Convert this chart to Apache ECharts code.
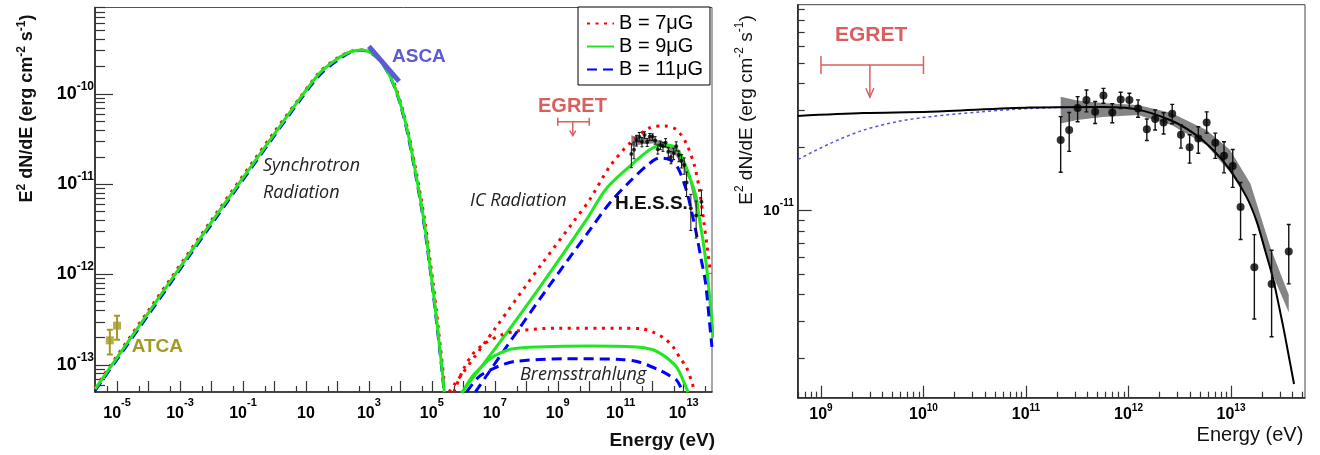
<!DOCTYPE html>
<html><head><meta charset="utf-8">
<script src="https://cdn.jsdelivr.net/npm/echarts@6/dist/echarts.min.js"></script>
<style>html,body{margin:0;padding:0;background:#fff}#c{width:1320px;height:455px}</style>
</head><body><div id="c"></div>
<script>
// ================= DATA (E in eV, flux E^2 dN/dE in erg cm^-2 s^-1) =================
// Synchrotron component (left panel)
const synchE   = [2.0e-6, 1e-4, 1e-2, 1, 6.5, 27.5, 93, 250, 630, 1.74e3, 3.6e3, 6.8e3, 1.12e4, 1.78e4, 2.8e4, 4.5e4, 6.3e4, 8.7e4, 1.12e5, 1.41e5, 1.9e5, 2.5e5];
const synchF7  = [5.6e-14, 4.0e-13, 4.0e-12, 3.8e-11, 9.1e-11, 1.74e-10, 2.45e-10, 2.92e-10, 3.05e-10, 2.6e-10, 1.9e-10, 1.23e-10, 7.1e-11, 3.8e-11, 1.74e-11, 7.1e-12, 3.5e-12, 1.48e-12, 7.6e-13, 3.8e-13, 1.51e-13, 6.3e-14];
const synchF9  = [5.4e-14, 3.8e-13, 3.8e-12, 3.6e-11, 8.9e-11, 1.7e-10, 2.4e-10, 2.9e-10, 3.05e-10, 2.57e-10, 1.86e-10, 1.17e-10, 6.8e-11, 3.55e-11, 1.58e-11, 6.3e-12, 3.0e-12, 1.26e-12, 6.3e-13, 3.2e-13, 1.26e-13, 5.0e-14];
const synchF11 = [5.2e-14, 3.6e-13, 3.6e-12, 3.45e-11, 8.5e-11, 1.62e-10, 2.3e-10, 2.85e-10, 3.03e-10, 2.55e-10, 1.84e-10, 1.15e-10, 6.6e-11, 3.4e-11, 1.5e-11, 6.0e-12, 2.8e-12, 1.2e-12, 6.0e-13, 3.0e-13, 1.2e-13, 4.8e-14];
// Inverse Compton component
const icE7  = [3.5e5, 1e7, 3.16e8, 3.1e9, 1.05e10, 4.5e10, 1.95e11, 8.3e11, 2.5e12, 5.9e12, 1.2e13, 2.24e13, 3.3e13, 4.3e13, 5.6e13, 7.2e13];
const icF7  = [5.0e-14, 2.5e-13, 1.32e-12, 3.8e-12, 6.8e-12, 1.57e-11, 2.84e-11, 4.2e-11, 4.4e-11, 4.0e-11, 2.84e-11, 1.57e-11, 7.9e-12, 4.0e-12, 2.0e-12, 1.02e-12];
const icE9  = [8.7e5, 1.12e7, 2.37e8, 8.1e9, 3.47e10, 1.95e11, 8.3e11, 1.95e12, 4.6e12, 8.5e12, 1.55e13, 2.5e13, 3.2e13, 4.1e13, 5.6e13, 7.6e13, 8.9e13];
const icF9  = [4.9e-14, 1.58e-13, 6.8e-13, 4.03e-12, 8.9e-12, 1.58e-11, 2.4e-11, 2.72e-11, 2.63e-11, 2.04e-11, 1.21e-11, 7.2e-12, 4.0e-12, 2.4e-12, 1.05e-12, 3.4e-13, 2.0e-13];
const icE11 = [2.4e6, 2.34e7, 4.37e8, 1.05e10, 4.5e10, 1.95e11, 8.3e11, 1.74e12, 3.6e12, 6.6e12, 1.2e13, 1.74e13, 2.5e13, 3.55e13, 4.9e13, 6.3e13, 7.9e13];
const icF11 = [5.0e-14, 1.58e-13, 6.8e-13, 3.12e-12, 6.2e-12, 1.07e-11, 1.7e-11, 1.95e-11, 1.86e-11, 1.51e-11, 8.7e-12, 5.2e-12, 2.9e-12, 1.51e-12, 8.3e-13, 3.55e-13, 1.58e-13];
// Bremsstrahlung component
const brE7  = [5.0e5, 1e6, 2e6, 5e6, 1.58e7, 6.3e7, 1e9, 1e11, 5e11, 1.07e12, 2.5e12, 4.6e12, 7.9e12, 1.2e13, 1.78e13, 2.24e13];
const brF7  = [5.0e-14, 8.9e-14, 1.32e-13, 1.74e-13, 2.14e-13, 2.4e-13, 2.55e-13, 2.55e-13, 2.5e-13, 2.3e-13, 1.95e-13, 1.58e-13, 1.17e-13, 9.5e-14, 6.6e-14, 5.0e-14];
const brE9  = [9.5e5, 1.78e6, 3.3e6, 7.1e6, 1.45e7, 3.8e7, 2.1e8, 1e10, 3.16e11, 1e12, 1.74e12, 3.16e12, 5.9e12, 8.9e12, 1.38e13];
const brF9  = [5.0e-14, 7.2e-14, 9.1e-14, 1.17e-13, 1.35e-13, 1.51e-13, 1.58e-13, 1.62e-13, 1.58e-13, 1.48e-13, 1.35e-13, 1.17e-13, 9.5e-14, 7.2e-14, 5.0e-14];
const brE11 = [1.26e6, 3.16e6, 8.9e6, 2e7, 4.9e7, 1.48e9, 1e11, 4e11, 1.74e12, 3.16e12, 5.9e12, 7.9e12, 9.3e12];
const brF11 = [5.0e-14, 7.4e-14, 9.1e-14, 1.02e-13, 1.1e-13, 1.17e-13, 1.15e-13, 1.07e-13, 8.7e-14, 7.8e-14, 6.8e-14, 5.75e-14, 5.0e-14];
// Measurements
const ascaE = [1.0e3, 9.1e3];
const ascaF = [3.34e-10, 1.37e-10];
const atcaE  = [5.9e-6, 1.0e-5];
const atcaF  = [1.87e-13, 2.72e-13];
const atcaLo = [1.3e-13, 1.9e-13];
const atcaHi = [2.45e-13, 3.5e-13];
const egretE = [1e9, 1e10];
const egretArrowE = 3e9;
const egretF = 4.9e-11;
const egretTip = 3.45e-11;
const hessE  = [2.18e11, 2.64e11, 3.19e11, 3.89e11, 4.73e11, 5.70e11, 6.95e11, 8.39e11, 1.02e12, 1.24e12, 1.51e12, 1.82e12, 2.20e12, 2.67e12, 3.25e12, 3.95e12, 4.80e12, 5.79e12, 7.03e12, 8.55e12, 1.04e13, 1.24e13, 1.69e13, 2.49e13, 3.66e13];
const hessF  = [2.16e-11, 2.41e-11, 3.07e-11, 3.35e-11, 2.94e-11, 3.51e-11, 2.92e-11, 3.36e-11, 3.35e-11, 3.05e-11, 2.43e-11, 2.72e-11, 2.62e-11, 2.88e-11, 2.29e-11, 2.00e-11, 2.20e-11, 2.62e-11, 2.10e-11, 1.82e-11, 1.63e-11, 1.04e-11, 5.4e-12, 4.5e-12, 6.4e-12];
const hessHi = [2.79e-11, 2.92e-11, 3.47e-11, 3.73e-11, 3.29e-11, 3.80e-11, 3.21e-11, 3.64e-11, 3.60e-11, 3.35e-11, 2.72e-11, 3.00e-11, 2.91e-11, 3.19e-11, 2.55e-11, 2.29e-11, 2.50e-11, 2.94e-11, 2.33e-11, 2.12e-11, 1.95e-11, 1.36e-11, 7.7e-12, 6.5e-12, 8.6e-12];
const hessLo = [1.52e-11, 1.91e-11, 2.64e-11, 2.94e-11, 2.59e-11, 3.23e-11, 2.61e-11, 3.05e-11, 3.05e-11, 2.77e-11, 2.15e-11, 2.41e-11, 2.31e-11, 2.58e-11, 1.98e-11, 1.68e-11, 1.87e-11, 2.33e-11, 1.77e-11, 1.51e-11, 1.29e-11, 7.3e-12, 3.07e-12, 2.53e-12, 4.5e-12];
const bandE  = [2.18e11, 3.16e11, 5.6e11, 1.23e12, 2.63e12, 5.75e12, 9.8e12, 1.55e13, 2.45e13, 3.66e13];
const bandHi = [3.47e-11, 3.33e-11, 3.24e-11, 3.17e-11, 2.90e-11, 2.41e-11, 1.94e-11, 1.34e-11, 6.6e-12, 4.0e-12];
const bandLo = [2.59e-11, 2.69e-11, 2.78e-11, 2.84e-11, 2.55e-11, 2.05e-11, 1.52e-11, 1.08e-11, 5.2e-12, 3.3e-12];
const fitE = [5.9e8, 2.6e9, 1.16e10, 1.09e11, 5.6e11, 1.2e12, 2.54e12, 4.3e12, 6.7e12, 9.8e12, 1.42e13, 1.78e13, 2.15e13, 2.59e13, 3.24e13, 3.77e13, 4.12e13];
const fitF = [2.81e-11, 2.9e-11, 2.94e-11, 3.08e-11, 3.10e-11, 3.02e-11, 2.69e-11, 2.33e-11, 1.94e-11, 1.56e-11, 1.16e-11, 8.9e-12, 6.5e-12, 4.7e-12, 2.8e-12, 1.9e-12, 1.51e-12];
const altE = [6.0e8, 1.22e9, 2.6e9, 5.5e9, 1.16e10, 3.56e10, 1.09e11, 2.5e11];
const altF = [1.75e-11, 2.08e-11, 2.41e-11, 2.64e-11, 2.79e-11, 2.94e-11, 3.05e-11, 3.09e-11];
// Tick labels (exponents of 10)
const leftXLabelExp  = [-5, -3, -1, 1, 3, 5, 7, 9, 11, 13];
const leftXTickExp   = [-5,-4,-3,-2,-1,0,1,2,3,4,5,6,7,8,9,10,11,12,13];
const leftYLabelExp  = [-13, -12, -11, -10];
const rightXLabelExp = [9, 10, 11, 12, 13];
const rightYLabelExp = [-11];
const seriesNames = ['B = 7\u03bcG', 'B = 9\u03bcG', 'B = 11\u03bcG'];

// ================= HELPERS =================
const L = Math.log10;
const pts = (xs, ys) => xs.map((x, i) => [L(x), L(ys[i])]);
const minorLog = (lo, hi, ks) => { const o = []; for (let n = Math.floor(lo) - 1; n <= Math.ceil(hi); n++) ks.forEach(k => { const v = n + L(k); if (v > lo && v < hi) o.push(v); }); return o; };
const K29 = [2,3,4,5,6,7,8,9];
const FONT = 'Liberation Sans';
const supFmt = v => { const n = Math.round(v); return n === 1 ? '{b|10}' : '{b|10}{s|' + n + '}'; };
const richMk = (bs, ss, lh, weight) => ({
  b: { fontFamily: FONT, fontWeight: weight || 'bold', fontSize: bs, lineHeight: lh, color: '#000' },
  s: { fontFamily: FONT, fontWeight: weight || 'bold', fontSize: ss, lineHeight: ss, verticalAlign: 'top', color: '#000' }
});

const LX = [-5.7, 13.9], LY = [-13.3, -9.045];
const RX = [8.773, 13.722], RY = [-11.886, -10.024];

function axis(dim, grid, range, ticks, tickLen, labels, labelOpt, lineShow) {
  return {
    type: 'value', gridIndex: grid, min: range[0], max: range[1],
    position: dim === 'x' ? 'bottom' : 'left',
    axisLine: { show: lineShow, onZero: false, lineStyle: { color: '#222', width: 1.6 } },
    axisTick: { show: true, inside: true, length: tickLen, customValues: ticks, lineStyle: { color: '#333', width: 1.2 } },
    axisLabel: labels ? Object.assign({ show: true, customValues: labels, formatter: supFmt }, labelOpt)
                      : { show: false, customValues: ticks },
    splitLine: { show: false }, minorTick: { show: false }, silent: true
  };
}

const C7 = '#ff0000', C9 = '#1ee81e', C11 = '#0000ff';
const st7 = { color: C7, width: 3, type: [3, 5.5] };
const st9 = { color: C9, width: 3, type: 'solid' };
const st11 = { color: C11, width: 3, type: [10, 6] };

function curve(name, xs, ys, ls, xi, yi) {
  return { type: 'line', name, xAxisIndex: xi, yAxisIndex: yi, data: pts(xs, ys), symbol: 'none', showSymbol: false,
    smooth: 0.3, lineStyle: ls, itemStyle: { color: ls.color }, silent: true, clip: true };
}

function errBars(xi, yi, E, lo, hi, cap, lw, color, z) {
  return { type: 'custom', xAxisIndex: xi, yAxisIndex: yi, clip: true, silent: true, z: z || 3,
    data: E.map((e, i) => [L(e), L(lo[i]), L(hi[i])]), encode: { x: 0, y: [1, 2] },
    renderItem: (p, api) => {
      const a = api.coord([api.value(0), api.value(1)]), b = api.coord([api.value(0), api.value(2)]);
      const s = { stroke: color, lineWidth: lw };
      return { type: 'group', children: [
        { type: 'line', shape: { x1: a[0], y1: a[1], x2: b[0], y2: b[1] }, style: s },
        { type: 'line', shape: { x1: a[0] - cap, y1: a[1], x2: a[0] + cap, y2: a[1] }, style: s },
        { type: 'line', shape: { x1: b[0] - cap, y1: b[1], x2: b[0] + cap, y2: b[1] }, style: s }
      ]};
    } };
}

function egret(xi, yi, cap, headW, headH, lw) {
  const col = '#d95f5f';
  return { type: 'custom', xAxisIndex: xi, yAxisIndex: yi, silent: true, z: 4,
    data: [[L(egretE[0]), L(egretE[1]), L(egretArrowE), L(egretF), L(egretTip)]], encode: { x: [0, 1, 2], y: [3, 4] },
    renderItem: (p, api) => {
      const a = api.coord([api.value(0), api.value(3)]), b = api.coord([api.value(1), api.value(3)]);
      const c = api.coord([api.value(2), api.value(3)]), t = api.coord([api.value(2), api.value(4)]);
      const s = { stroke: col, lineWidth: lw, fill: null };
      return { type: 'group', children: [
        { type: 'line', shape: { x1: a[0], y1: a[1], x2: b[0], y2: b[1] }, style: s },
        { type: 'line', shape: { x1: a[0], y1: a[1] - cap, x2: a[0], y2: a[1] + cap }, style: s },
        { type: 'line', shape: { x1: b[0], y1: b[1] - cap, x2: b[0], y2: b[1] + cap }, style: s },
        { type: 'line', shape: { x1: c[0], y1: c[1], x2: t[0], y2: t[1] }, style: s },
        { type: 'polyline', shape: { points: [[t[0] - headW, t[1] - headH], [t[0], t[1]], [t[0] + headW, t[1] - headH]] }, style: s }
      ]};
    } };
}

function band(xi, yi) {
  return { type: 'custom', xAxisIndex: xi, yAxisIndex: yi, silent: true, clip: true, z: 2,
    data: [[L(bandE[0]), L(bandHi[0])]],
    renderItem: (p, api) => {
      const up = bandE.map((e, i) => api.coord([L(e), L(bandHi[i])]));
      const dn = bandE.map((e, i) => api.coord([L(e), L(bandLo[i])])).reverse();
      return { type: 'polygon', shape: { points: up.concat(dn) }, style: { fill: '#858585', stroke: null } };
    } };
}

function txt(x, y, text, o, rot) {
  const el = { type: 'text', x, y, silent: true, z: 50, style: Object.assign({ text, fill: '#111', fontFamily: FONT, fontSize: 18,
    textAlign: 'left', textVerticalAlign: 'middle' }, o) };
  if (rot) el.rotation = rot;
  return el;
}

const yTitle = '{b|E}{s|2}{b| dN/dE (erg cm}{s|-2}{b| s}{s|-1}{b|)}';

const option = {
  animation: false,
  backgroundColor: '#fff',
  grid: [
    { left: 95, top: 7.5, width: 617, height: 384.5, show: true, borderColor: '#555', borderWidth: 1 },
    { left: 797.7, top: 4.7, width: 507.3, height: 393, show: true, borderColor: '#444', borderWidth: 1 }
  ],
  xAxis: [
    axis('x', 0, LX, leftXTickExp, 11, leftXLabelExp, { margin: 5, rich: richMk(16, 11, 34) }, true),
    axis('x', 0, LX, leftXTickExp.map(n => n + L(5)).concat([-6 + L(5)]).filter(v => v > LX[0] && v < LX[1]), 6, null, null, false),
    axis('x', 1, RX, rightXLabelExp, 12, rightXLabelExp, { margin: 6, rich: richMk(16, 10, 22) }, true),
    axis('x', 1, RX, minorLog(RX[0], RX[1], K29), 6, null, null, false)
  ],
  yAxis: [
    axis('y', 0, LY, leftYLabelExp, 18, leftYLabelExp, { margin: 1, rich: richMk(18, 12, 27) }, true),
    axis('y', 0, LY, minorLog(LY[0], LY[1], K29), 10, null, null, false),
    axis('y', 1, RY, rightYLabelExp, 14, rightYLabelExp, { margin: 4, rich: richMk(15, 10, 24) }, true),
    axis('y', 1, RY, minorLog(RY[0], RY[1], K29), 7, null, null, false)
  ],
  legend: {
    data: seriesNames, left: 578, top: 7, orient: 'vertical', backgroundColor: '#fff',
    borderColor: '#000', borderWidth: 1, borderRadius: 0, padding: [6, 7, 5, 8],
    itemWidth: 27, itemHeight: 14, itemGap: 2, itemTextGap: 6, selectedMode: false,
    itemStyle: { color: 'rgba(0,0,0,0)', opacity: 0, borderWidth: 0 },
    textStyle: { fontFamily: FONT, fontSize: 20, lineHeight: 21, color: '#000' }
  },
  graphic: [
    txt(27.5, 108.5, yTitle, { textAlign: 'center', rich: richMk(18, 12, 24) }, Math.PI / 2),
    txt(747, 110, yTitle, { textAlign: 'center', rich: richMk(19, 12, 26, 'normal') }, Math.PI / 2),
    txt(715, 441, 'Energy (eV)', { textAlign: 'right', fontWeight: 'bold', fontSize: 19 }),
    txt(1303.3, 435.5, 'Energy (eV)', { textAlign: 'right', fontSize: 20 }),
    txt(263, 166, 'Synchrotron', { fontFamily: 'Open Sans', fontStyle: 'italic', fontSize: 18, fill: '#222' }),
    txt(263, 192.5, 'Radiation', { fontFamily: 'Open Sans', fontStyle: 'italic', fontSize: 18, fill: '#222' }),
    txt(470, 201, 'IC Radiation', { fontFamily: 'Open Sans', fontStyle: 'italic', fontSize: 18, fill: '#222' }),
    txt(520, 375, 'Bremsstrahlung', { fontFamily: 'Open Sans', fontStyle: 'italic', fontSize: 18, fill: '#222' }),
    txt(615, 204, 'H.E.S.S.', { fontWeight: 'bold', fontSize: 19, fill: '#111' }),
    txt(392, 57, 'ASCA', { fontWeight: 'bold', fontSize: 19, fill: '#5b5bd6' }),
    txt(131.7, 347, 'ATCA', { fontWeight: 'bold', fontSize: 19, fill: '#a39a25' }),
    txt(538, 106.5, 'EGRET', { fontWeight: 'bold', fontSize: 20, fill: '#d95f5f' }),
    txt(835, 35, 'EGRET', { fontWeight: 'bold', fontSize: 21, fill: '#d95f5f' })
  ],
  series: [
    // left panel model curves (legend takes style from first series of each name)
    curve(seriesNames[0], icE7, icF7, st7, 0, 0),
    curve(seriesNames[1], icE9, icF9, st9, 0, 0),
    curve(seriesNames[2], icE11, icF11, st11, 0, 0),
    curve(seriesNames[2], synchE, synchF11, st11, 0, 0),
    curve(seriesNames[0], synchE, synchF7, st7, 0, 0),
    curve(seriesNames[1], synchE, synchF9, st9, 0, 0),
    curve(seriesNames[2], brE11, brF11, st11, 0, 0),
    curve(seriesNames[0], brE7, brF7, st7, 0, 0),
    curve(seriesNames[1], brE9, brF9, st9, 0, 0),
    // left panel data
    band(0, 0),
    errBars(0, 0, hessE, hessLo, hessHi, 1.5, 1, '#111', 5),
    { type: 'scatter', xAxisIndex: 0, yAxisIndex: 0, data: pts(hessE, hessF), symbol: 'circle', symbolSize: 4, itemStyle: { color: '#000' }, silent: true, z: 6 },
    { type: 'line', xAxisIndex: 0, yAxisIndex: 0, data: pts(ascaE, ascaF), symbol: 'none', lineStyle: { color: '#5b5bd6', width: 5 }, silent: true, z: 6 },
    errBars(0, 0, atcaE, atcaLo, atcaHi, 3, 2, '#a39a25', 6),
    { type: 'scatter', xAxisIndex: 0, yAxisIndex: 0, data: pts(atcaE, atcaF), symbol: 'rect', symbolSize: 8, itemStyle: { color: '#a39a25' }, silent: true, z: 7 },
    egret(0, 0, 4, 3, 5, 1.5),
    // right panel
    band(2, 2),
    { type: 'line', xAxisIndex: 2, yAxisIndex: 2, data: pts(altE, altF), symbol: 'none', smooth: 0.3, lineStyle: { color: '#5555dd', width: 1.5, type: [3, 3] }, silent: true, z: 3 },
    { type: 'line', xAxisIndex: 2, yAxisIndex: 2, data: pts(fitE, fitF), symbol: 'none', smooth: 0.3, lineStyle: { color: '#000', width: 2 }, silent: true, z: 4 },
    errBars(2, 2, hessE, hessLo, hessHi, 2, 1.4, '#111', 5),
    { type: 'scatter', xAxisIndex: 2, yAxisIndex: 2, data: pts(hessE, hessF), symbol: 'circle', symbolSize: 8, itemStyle: { color: '#000' }, silent: true, z: 6 },
    egret(2, 2, 9, 4, 9, 1.5)
  ]
};

const chart = echarts.init(document.getElementById('c'), null, { renderer: 'canvas' });
chart.setOption(option);
</script>
</body></html>
